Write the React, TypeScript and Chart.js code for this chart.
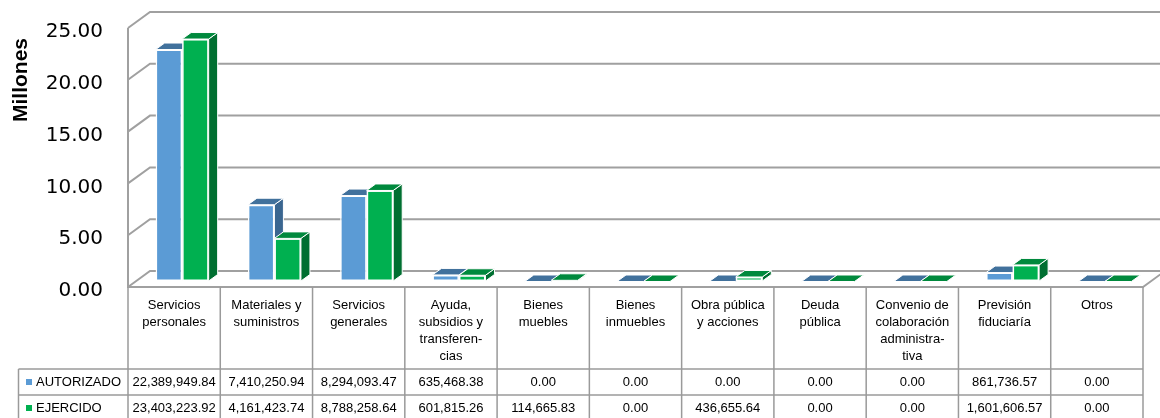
import React, { useEffect, useRef } from "react";
import { Chart, registerables } from "chart.js";

Chart.register(...registerables);

// ---------- DATA ----------
const categories: string[][] = [
  ["Servicios", "personales"],
  ["Materiales y", "suministros"],
  ["Servicios", "generales"],
  ["Ayuda,", "subsidios y", "transferen-", "cias"],
  ["Bienes", "muebles"],
  ["Bienes", "inmuebles"],
  ["Obra pública", "y acciones"],
  ["Deuda", "pública"],
  ["Convenio de", "colaboración", "administra-", "tiva"],
  ["Previsión", "fiduciaría"],
  ["Otros"],
];

const seriesNames = ["AUTORIZADO", "EJERCIDO"];

const autorizado = [
  22389949.84, 7410250.94, 8294093.47, 635468.38, 0.0, 0.0, 0.0, 0.0, 0.0,
  861736.57, 0.0,
];

const ejercido = [
  23403223.92, 4161423.74, 8788258.64, 601815.26, 114665.83, 0.0, 436655.64,
  0.0, 0.0, 1601606.57, 0.0,
];

const yTicks = [0, 5, 10, 15, 20, 25];
const axisTitle = "Millones";
const UNIT = 1000000;

// ---------- STYLE ----------
const FRONT = ["#5B9BD5", "#00B050"];
const TOP = ["#41719C", "#00893D"];
const SIDE = ["#3A6690", "#006F31"];
const FRAME = "#A0A0A0";
const TABLE_LINE = "#9A9A9A";
const TEXT_FONT = '"Liberation Sans", Arial, sans-serif';

const WALL_DX = 22;
const WALL_DY = 16;
const BAR_DX = 8;
const BAR_DY = 5.5;
const FACE_DX = 9;
const FACE_DY = 6.5;

function fmt(n: number): string {
  const fixed = n.toFixed(2);
  const [i, d] = fixed.split(".");
  return i.replace(/\B(?=(\d{3})+(?!\d))/g, ",") + "." + d;
}

const frame3d = {
  id: "frame3d",
  beforeDatasetsDraw(chart: any) {
    const { ctx, chartArea: a } = chart;
    const y = chart.scales.y;
    ctx.save();
    ctx.strokeStyle = FRAME;
    ctx.lineWidth = 2;
    ctx.lineCap = "butt";
    for (const v of yTicks) {
      const yf = y.getPixelForValue(v);
      ctx.beginPath();
      ctx.moveTo(a.left, yf);
      ctx.lineTo(a.left + WALL_DX, yf - WALL_DY);
      ctx.lineTo(a.right + WALL_DX, yf - WALL_DY);
      ctx.stroke();
    }
    ctx.beginPath();
    ctx.moveTo(a.left, y.getPixelForValue(yTicks[yTicks.length - 1]));
    ctx.lineTo(a.left, a.bottom);
    ctx.lineTo(a.right, a.bottom);
    ctx.lineTo(a.right + WALL_DX, a.bottom - WALL_DY);
    ctx.stroke();
    ctx.restore();
    ctx.save();
    ctx.translate(BAR_DX, -BAR_DY);
  },
  afterDatasetsDraw(chart: any) {
    const ctx = chart.ctx;
    const metas = [chart.getDatasetMeta(0), chart.getDatasetMeta(1)];
    const n = metas[0].data.length;
    const drawFaces = (el: any, s: number, redrawFront: boolean) => {
      const { x, y, base, width } = el.getProps(["x", "y", "base", "width"], true);
      const L = x - width / 2;
      const R = x + width / 2;
      const T = Math.min(y, base);
      const B = Math.max(y, base);
      ctx.lineJoin = "round";
      if (redrawFront && B - T > 3) {
        ctx.fillStyle = "#fff";
        ctx.fillRect(L, T, R - L, B - T);
        ctx.fillStyle = FRONT[s];
        ctx.fillRect(L + 1.5, T + 1.5, R - L - 3, B - T - 3);
      }
      ctx.strokeStyle = "#fff";
      ctx.lineWidth = 1;
      // side
      ctx.beginPath();
      ctx.moveTo(R, T);
      ctx.lineTo(R + FACE_DX, T - FACE_DY);
      ctx.lineTo(R + FACE_DX, B - FACE_DY);
      ctx.lineTo(R, B);
      ctx.closePath();
      ctx.fillStyle = SIDE[s];
      ctx.fill();
      ctx.stroke();
      // top
      ctx.beginPath();
      ctx.moveTo(L, T);
      ctx.lineTo(R, T);
      ctx.lineTo(R + FACE_DX, T - FACE_DY);
      ctx.lineTo(L + FACE_DX, T - FACE_DY);
      ctx.closePath();
      ctx.fillStyle = TOP[s];
      ctx.fill();
      ctx.stroke();
    };
    for (let i = 0; i < n; i++) {
      drawFaces(metas[0].data[i], 0, false);
      drawFaces(metas[1].data[i], 1, true);
    }
    ctx.restore();
  },
  afterDraw(chart: any) {
    const { ctx, chartArea: a } = chart;
    const n = categories.length;
    const colW = (a.right - a.left) / n;
    const headerBottom = a.bottom + 82;
    const rowH = 26;
    const legendLeft = 18.5;
    const bottom = 430;
    ctx.save();
    ctx.strokeStyle = TABLE_LINE;
    ctx.lineWidth = 1.5;
    ctx.beginPath();
    for (let k = 0; k <= n; k++) {
      const x = a.left + k * colW;
      ctx.moveTo(x, a.bottom);
      ctx.lineTo(x, bottom);
    }
    ctx.moveTo(legendLeft, headerBottom);
    ctx.lineTo(legendLeft, bottom);
    for (let r = 0; r < seriesNames.length; r++) {
      const yy = headerBottom + r * rowH;
      ctx.moveTo(legendLeft, yy);
      ctx.lineTo(a.right, yy);
    }
    ctx.moveTo(legendLeft, headerBottom + seriesNames.length * rowH);
    ctx.lineTo(a.right, headerBottom + seriesNames.length * rowH);
    ctx.stroke();

    const series = [autorizado, ejercido];
    ctx.font = "13px " + TEXT_FONT;
    ctx.textBaseline = "middle";
    for (let s = 0; s < series.length; s++) {
      const yc = headerBottom + s * rowH + rowH / 2;
      ctx.fillStyle = FRONT[s];
      ctx.fillRect(26, yc - 3, 6, 6);
      ctx.fillStyle = "#000";
      ctx.textAlign = "left";
      ctx.fillText(seriesNames[s], 36, yc);
      ctx.textAlign = "center";
      for (let i = 0; i < n; i++) {
        ctx.fillText(fmt(series[s][i]), a.left + (i + 0.5) * colW, yc);
      }
    }

    // axis title
    ctx.translate(21, 80);
    ctx.rotate(-Math.PI / 2);
    ctx.font = "bold 21px " + TEXT_FONT;
    ctx.textAlign = "center";
    ctx.textBaseline = "middle";
    ctx.fillStyle = "#000";
    ctx.fillText(axisTitle, 0, 0);
    ctx.restore();
  },
};

export default function App() {
  const ref = useRef<HTMLCanvasElement>(null);
  useEffect(() => {
    const canvas = ref.current!;
    const chart = new Chart(canvas, {
      type: "bar",
      data: {
        labels: categories,
        datasets: [
          {
            label: seriesNames[0],
            data: autorizado.map((v) => v / UNIT),
            backgroundColor: FRONT[0],
            borderColor: "#fff",
            borderWidth: 1.5,
            borderSkipped: false,
            categoryPercentage: 0.575,
            barPercentage: 1,
          },
          {
            label: seriesNames[1],
            data: ejercido.map((v) => v / UNIT),
            backgroundColor: FRONT[1],
            borderColor: "#fff",
            borderWidth: 1.5,
            borderSkipped: false,
            categoryPercentage: 0.575,
            barPercentage: 1,
          },
        ],
      },
      options: {
        animation: false,
        responsive: false,
        devicePixelRatio: 1,
        events: [],
        layout: { padding: { left: 0, right: 17, top: 28, bottom: 0 } },
        plugins: {
          legend: { display: false },
          tooltip: { enabled: false },
          title: { display: false },
        },
        scales: {
          x: {
            offset: true,
            grid: {
              display: true,
              drawOnChartArea: false,
              drawTicks: true,
              tickLength: 10,
              color: "rgba(0,0,0,0)",
            },
            border: { display: false },
            ticks: {
              autoSkip: false,
              maxRotation: 0,
              minRotation: 0,
              padding: 0,
              color: "#000",
              font: { family: TEXT_FONT, size: 13, lineHeight: "17px" },
            },
            afterFit: (scale: any) => {
              scale.height = 131;
            },
          },
          y: {
            min: 0,
            max: 25,
            grid: {
              display: true,
              drawOnChartArea: false,
              drawTicks: true,
              tickLength: 25,
              color: "rgba(0,0,0,0)",
            },
            border: { display: false },
            ticks: {
              stepSize: 5,
              padding: 0,
              labelOffset: 4,
              color: "#000",
              font: { family: '"DejaVu Sans", sans-serif', size: 20 },
              callback: (v: any) => Number(v).toFixed(2),
            },
            afterFit: (scale: any) => {
              scale.width = 128;
            },
          },
        },
      },
      plugins: [frame3d],
    } as any);
    return () => chart.destroy();
  }, []);
  return (
    <div
      style={{
        position: "absolute",
        left: 0,
        top: 0,
        width: 1160,
        height: 418,
        background: "#fff",
        overflow: "hidden",
      }}
    >
      <canvas
        ref={ref}
        width={1160}
        height={418}
        style={{ display: "block", width: 1160, height: 418 }}
      />
    </div>
  );
}
